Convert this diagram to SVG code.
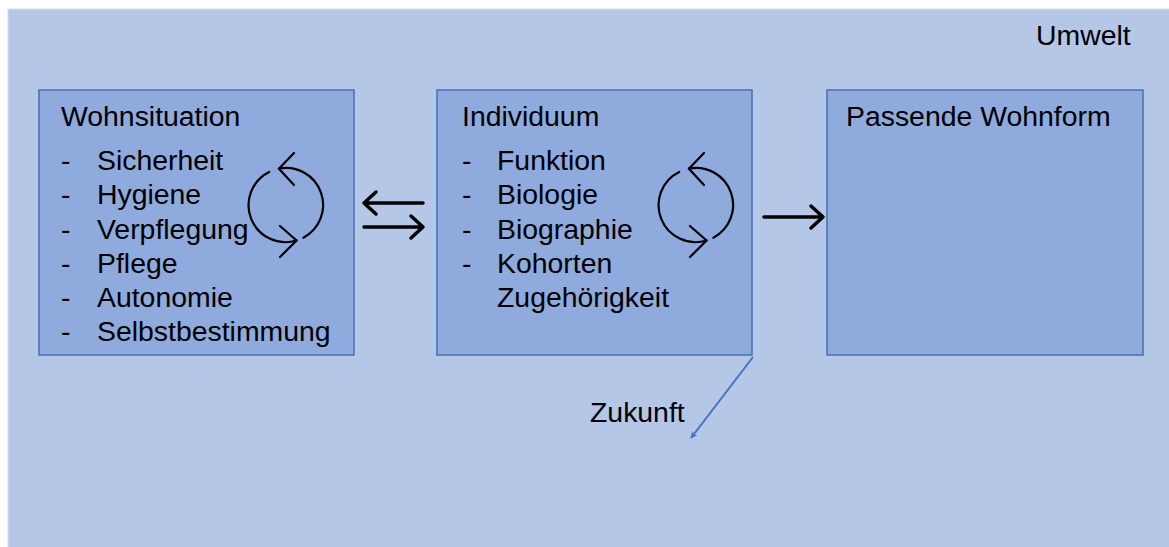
<svg xmlns="http://www.w3.org/2000/svg" width="1169" height="547" viewBox="0 0 1169 547">
<defs>
<style>
text{font-family:"Liberation Sans",Arial,sans-serif;font-size:28.4px;fill:#000}
.box{fill:#8FAADC;stroke:#4A6FB5;stroke-width:1.5}
.cyc{fill:none;stroke:#000;stroke-width:2.2;stroke-linecap:round;stroke-linejoin:round}
.arr{fill:none;stroke:#000;stroke-width:3.5;stroke-linecap:round;stroke-linejoin:round}
</style>
<marker id="blueHead" viewBox="0 0 10 10" refX="9" refY="5" markerWidth="7" markerHeight="7" orient="auto" markerUnits="userSpaceOnUse">
<path d="M0,0 L10,5 L0,10 L3,5 Z" fill="#4472C4"/>
</marker>
</defs>
<rect width="1169" height="547" fill="#FFFFFF"/>
<g id="umwelt">
<rect x="8" y="9" width="1165" height="542" fill="#B4C7E7" stroke="#D6DEEC" stroke-width="1"/>
<text x="1036" y="45">Umwelt</text>
</g>
<g id="wohnsituation">
<rect class="box" x="39" y="90" width="315" height="265"/>
<text x="61" y="126">Wohnsituation</text>
<text x="61" y="170">-</text><text x="97" y="170">Sicherheit</text>
<text x="61" y="204">-</text><text x="97" y="204">Hygiene</text>
<text x="61" y="239">-</text><text x="97" y="239">Verpflegung</text>
<text x="61" y="273">-</text><text x="97" y="273">Pflege</text>
<text x="61" y="307">-</text><text x="97" y="307">Autonomie</text>
<text x="61" y="341">-</text><text x="97" y="341">Selbstbestimmung</text>
<g class="cyc">
<path d="M278.9,168.7 A37,37 0 0 1 303.4,237.7"/>
<path d="M294,153 L278.9,168.7 L294,185"/>
<path d="M269.2,172 A37,37 0 0 0 296.6,240.5"/>
<path d="M280,226 L296.6,240.5 L280,257"/>
</g>
</g>
<g id="individuum">
<rect class="box" x="437" y="90" width="315" height="265"/>
<text x="462" y="126">Individuum</text>
<text x="462" y="170">-</text><text x="497" y="170">Funktion</text>
<text x="462" y="204">-</text><text x="497" y="204">Biologie</text>
<text x="462" y="239">-</text><text x="497" y="239">Biographie</text>
<text x="462" y="273">-</text><text x="497" y="273">Kohorten</text>
<text x="497" y="307">Zugehörigkeit</text>
<g class="cyc">
<path d="M688.9,168.7 A37,37 0 0 1 713.4,237.7"/>
<path d="M704,153 L688.9,168.7 L704,185"/>
<path d="M679.2,172 A37,37 0 0 0 706.6,240.5"/>
<path d="M690,226 L706.6,240.5 L690,257"/>
</g>
</g>
<g id="passende-wohnform">
<rect class="box" x="827" y="90" width="316" height="265"/>
<text x="846" y="126">Passende Wohnform</text>
</g>
<g id="connectors">
<path class="arr" d="M423,203 L364,203 M376,192 L364,203 L376,214"/>
<path class="arr" d="M364,227 L423,227 M411,216 L423,227 L411,238"/>
<path class="arr" d="M764,217 L823,217 M811,206 L823,217 L811,228"/>
<line x1="753" y1="357" x2="691" y2="438" stroke="#4472C4" stroke-width="2" marker-end="url(#blueHead)"/>
<text x="590" y="422">Zukunft</text>
</g>
</svg>
